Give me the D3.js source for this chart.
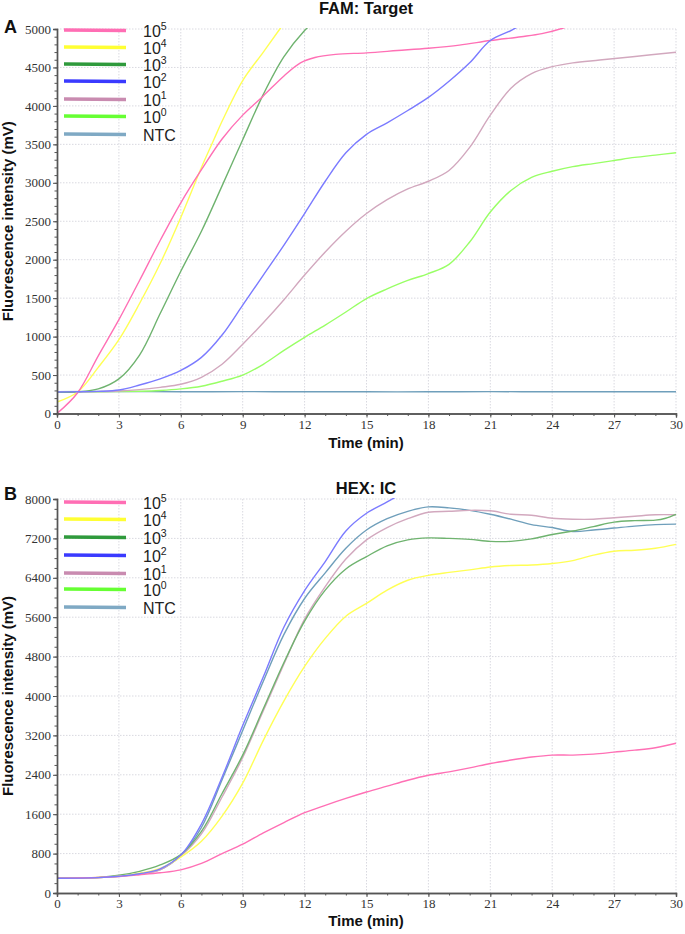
<!DOCTYPE html>
<html><head><meta charset="utf-8">
<script src="https://cdn.jsdelivr.net/npm/d3@7"></script>
<style>
body{margin:0;background:#fff;}
svg{display:block;}
</style></head>
<body>
<svg id="c" width="685" height="934"></svg>
<script>
// ---------- DATA ----------
const seriesNames = ["1e5","1e4","1e3","1e2","1e1","1e0","NTC"];
const legendBase = ["10","10","10","10","10","10","NTC"];
const legendExp  = ["5","4","3","2","1","0",""];
const seriesColors = ["#ff6eb4","#ffff33","#2f9a3c","#3a3aff","#c98bb0","#66ff33","#7fa9c4"];
const lineColors   = ["#ff70b5","#ffff55","#6fb36f","#7b7bff","#d2a8be","#99ff66","#6f9fbb"];

const xTicks = [0,3,6,9,12,15,18,21,24,27,30];
const yTicksA = [0,500,1000,1500,2000,2500,3000,3500,4000,4500,5000];
const yTicksB = [0,800,1600,2400,3200,4000,4800,5600,6400,7200,8000];

// Panel A — FAM: Target  [time(min), mV]
const famP5 = [[0,0],[1,270],[2,750],[3,1220],[4,1730],[5,2250],[6,2740],[7,3170],[8,3570],[9,3880],[10,4130],[11,4390],[11.8,4560],[12.5,4630],[13.5,4670],[15,4690],[16.5,4720],[18,4750],[19.5,4790],[21,4850],[22.5,4900],[23.5,4940],[24.5,5010],[25,5060]];
const famP4 = [[0,150],[1,280],[2,600],[3,960],[4,1430],[5,1950],[6,2550],[7,3200],[7.6,3560],[8,3800],[9,4330],[10,4700],[10.8,5000],[11.2,5150]];
const famP3 = [[0,275],[1,282],[2,320],[3,450],[4,760],[5,1300],[6,1850],[7,2370],[8,2960],[9,3560],[10,4150],[11,4640],[12,4980],[12.4,5080]];
const famP2 = [[0,280],[1,282],[2,288],[3,305],[4,370],[5,450],[6,560],[7,730],[8,1020],[9,1410],[10,1800],[11,2190],[12,2600],[13,3020],[14,3390],[15,3630],[16,3780],[17,3940],[18,4110],[19,4320],[20,4560],[21,4850],[22,4980],[22.4,5040]];
const famP1 = [[0,280],[1,282],[2,285],[3,292],[4,310],[5,340],[6,380],[7,470],[8,640],[9,900],[10,1180],[11,1480],[12,1800],[13,2100],[14,2370],[15,2600],[16,2780],[17,2920],[18,3020],[19,3160],[20,3460],[21,3880],[22,4230],[23,4420],[24,4510],[25,4560],[26.3,4596],[27.9,4640],[30,4697]];
const famP0 = [[0,280],[2,282],[4,290],[5,300],[6,320],[7,355],[8,420],[9,500],[10,640],[11,820],[12,990],[13,1150],[14,1320],[15,1495],[16,1620],[17,1730],[18,1820],[19,1940],[20,2230],[21,2620],[22,2900],[23,3070],[24,3150],[25,3210],[26,3250],[27,3290],[28,3330],[29,3360],[30,3390]];
const famNTC = [[0,285],[3,285],[6,283],[9,284],[12,283],[15,282],[18,282],[21,284],[24,283],[27,282],[30,282]];

// Panel B — HEX: IC
const hexP5 = [[0,300],[2,315],[3,335],[4,370],[5,410],[6,470],[7,600],[8,800],[9,990],[10,1220],[11,1430],[12,1630],[13,1780],[14,1920],[15,2050],[16,2170],[17,2290],[18,2390],[19,2460],[20,2540],[21,2630],[22,2700],[23,2760],[24,2800],[25,2800],[26,2820],[27,2860],[28,2900],[29,2950],[30,3040]];
const hexP4 = [[0,300],[2,315],[3,340],[4,400],[5,500],[6,730],[7,1050],[8,1560],[9,2230],[10,3100],[11,3900],[12,4600],[13,5170],[14,5620],[15,5880],[16,6150],[17,6350],[18,6450],[19,6510],[20,6560],[21,6620],[22,6650],[23,6660],[24,6690],[25,6750],[26,6860],[27,6940],[28,6960],[29,7000],[30,7080]];
const hexP3 = [[0,300],[2,318],[3,360],[4,440],[5,570],[6,780],[7,1250],[8,2020],[9,2800],[10,3740],[11,4680],[12,5520],[13,6150],[14,6580],[15,6830],[16,7050],[17,7170],[18,7210],[19,7200],[20,7180],[21,7140],[22,7140],[23,7190],[24,7280],[25,7350],[26,7440],[27,7530],[28,7560],[29,7570],[29.5,7610],[30,7690]];
const hexP2 = [[0,300],[2,312],[3,340],[4,390],[5,490],[6,770],[7,1400],[8,2350],[9,3400],[10,4390],[11,5400],[12,6140],[13,6730],[14,7350],[15,7710],[16,7940],[16.5,8060]];
const hexP1 = [[0,300],[2,312],[3,338],[4,385],[5,470],[6,750],[7,1200],[8,1950],[9,2750],[10,3700],[11,4650],[12,5560],[13,6220],[14,6780],[15,7170],[16,7420],[17,7600],[18,7730],[19,7750],[20,7770],[21,7760],[22,7690],[23,7670],[24,7610],[25,7590],[26,7590],[27,7620],[28,7650],[29,7680],[30,7680]];
const hexP0 = [[0,300],[2,313],[3,340],[4,388],[5,475],[6,760],[7,1330],[8,2300],[9,3300],[10,4300],[11,5250],[12,5980],[13,6500],[14,7000],[15,7370],[16,7600],[17,7750],[18,7840],[19,7820],[20,7770],[21,7690],[22,7590],[23,7480],[24,7420],[25,7340],[26,7370],[27,7410],[28,7450],[29,7480],[30,7490]];
const hexNTC = hexP0;

const famSeries = [famP5,famP4,famP3,famP2,famP1,famP0,famNTC];
// HEX panel: 10^0 curve is hidden beneath the others; NTC drawn in steel blue
const hexSeries = [hexP5,hexP4,hexP3,hexP2,hexP1,null,hexNTC];

// ---------- DRAW ----------
const svg = d3.select("#c");
const tickFont = "'Liberation Serif', 'Times New Roman', serif";
const sansFont = "'Liberation Sans', Arial, sans-serif";

function panel(opts){
  const {top, bottom, left, right, yMax, yTicks, yMinorStep, title, titleY, letter, letterY, xTitleY, data, legendYs, id} = opts;
  const x = d3.scaleLinear().domain([0,30]).range([left,right]);
  const y = d3.scaleLinear().domain([0,yMax]).range([bottom,top]);
  const g = svg.append("g");

  // grid
  const grid = g.append("g").attr("stroke","#d9d9e0").attr("stroke-width",1).attr("stroke-dasharray","1.5,1.5");
  grid.selectAll("line.v").data(xTicks.slice(1)).join("line")
    .attr("x1",d=>x(d)).attr("x2",d=>x(d)).attr("y1",top).attr("y2",bottom);
  grid.selectAll("line.h").data(yTicks.slice(1)).join("line")
    .attr("y1",d=>y(d)).attr("y2",d=>y(d)).attr("x1",left).attr("x2",right);

  // clip
  svg.append("clipPath").attr("id","clip"+id).append("rect")
    .attr("x",left).attr("y",top-1).attr("width",right-left+1).attr("height",bottom-top+1);

  const line = d3.line().x(d=>x(d[0])).y(d=>y(d[1])).curve(d3.curveCatmullRom.alpha(0.5));
  const lg = g.append("g").attr("clip-path","url(#clip"+id+")");
  const order = [6,5,4,2,1,0,3];
  order.forEach(i=>{
    if(!data[i]) return;
    lg.append("path").attr("d",line(data[i])).attr("fill","none")
      .attr("stroke",lineColors[i]).attr("stroke-width",1.4);
  });

  // axes
  const xAxis = d3.axisBottom(x).tickValues(xTicks).tickSize(4).tickPadding(2).tickFormat(d3.format("d"));
  const xMinor = d3.axisBottom(x).tickValues(d3.range(0,31,1)).tickSize(2.5).tickFormat("");
  const yAxis = d3.axisLeft(y).tickValues(yTicks).tickSize(4).tickPadding(2).tickFormat(d3.format("d"));
  const yMinor = d3.axisLeft(y).tickValues(d3.range(0,yMax+1,yMinorStep)).tickSize(2.5).tickFormat("");

  const styleAxis = a => {
    a.selectAll("path.domain").attr("stroke","#555").attr("stroke-width",1.4);
    a.selectAll(".tick line").attr("stroke","#555").attr("stroke-width",1);
    a.selectAll("text").attr("font-family",tickFont).attr("font-size",13).attr("fill","#333");
  };
  g.append("g").attr("transform",`translate(0,${bottom})`).call(xMinor).call(styleAxis);
  g.append("g").attr("transform",`translate(0,${bottom})`).call(xAxis).call(styleAxis);
  g.append("g").attr("transform",`translate(${left},0)`).call(yMinor).call(styleAxis);
  g.append("g").attr("transform",`translate(${left},0)`).call(yAxis).call(styleAxis);

  // legend
  const leg = g.append("g");
  seriesNames.forEach((n,i)=>{
    const ly = legendYs[i];
    leg.append("line").attr("x1",64).attr("x2",126).attr("y1",ly).attr("y2",ly+0.5)
      .attr("stroke",seriesColors[i]).attr("stroke-width",3.5);
    const t = leg.append("text").attr("x",143).attr("y",ly+6.5)
      .attr("font-family",sansFont).attr("font-size",16).attr("fill","#222");
    t.append("tspan").text(legendBase[i]);
    if(legendExp[i]) t.append("tspan").attr("font-size",10.5).attr("dy",-6.5).text(legendExp[i]);
  });

  // titles
  g.append("text").attr("x",366).attr("y",titleY).attr("text-anchor","middle")
    .attr("font-family",sansFont).attr("font-weight","bold").attr("font-size",16.5).attr("fill","#111").text(title);
  g.append("text").attr("x",4).attr("y",letterY)
    .attr("font-family",sansFont).attr("font-weight","bold").attr("font-size",18).attr("fill","#111").text(letter);
  g.append("text").attr("transform",`translate(13,${(top+bottom)/2}) rotate(-90)`).attr("text-anchor","middle")
    .attr("font-family",sansFont).attr("font-weight","bold").attr("font-size",15).attr("fill","#111")
    .text("Fluorescence intensity (mV)");
  g.append("text").attr("x",366).attr("y",xTitleY).attr("text-anchor","middle")
    .attr("font-family",sansFont).attr("font-weight","bold").attr("font-size",15).attr("fill","#111")
    .text("Time (min)");
}

panel({id:"A", top:29, bottom:413.5, left:57, right:676, yMax:5000, yTicks:yTicksA, yMinorStep:100,
  title:"FAM: Target", titleY:14, letter:"A", letterY:33, xTitleY:448, data:famSeries,
  legendYs:[30,47,64,81,99,116,134]});
panel({id:"B", top:499, bottom:893, left:57, right:676, yMax:8000, yTicks:yTicksB, yMinorStep:200,
  title:"HEX: IC", titleY:494, letter:"B", letterY:500, xTitleY:926, data:hexSeries,
  legendYs:[502,519,537,555,573,589,607]});
</script>
</body></html>
